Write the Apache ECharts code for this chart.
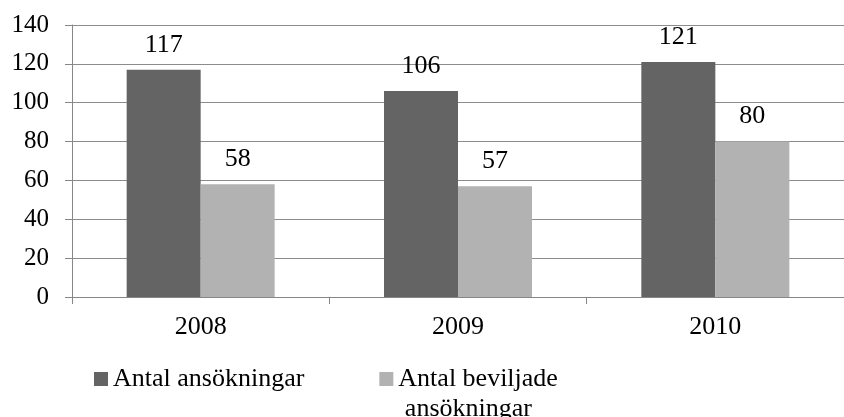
<!DOCTYPE html>
<html>
<head>
<meta charset="utf-8">
<script src="https://cdn.jsdelivr.net/npm/echarts@6/dist/echarts.min.js"></script>
<style>
  html, body { margin: 0; padding: 0; background: #fff; }
  #chart { width: 844px; height: 417px; }
</style>
</head>
<body>
<div id="chart"></div>
<script>
const years = ['2008', '2009', '2010'];
const applications = [117, 106, 121];
const granted = [58, 57, 80];
const seriesNames = ['Antal ansökningar', 'Antal beviljade\n ansökningar'];

const font = "'Liberation Serif', 'Times New Roman', serif";
const chart = echarts.init(document.getElementById('chart'));

const option = {
    animation: false,
    textStyle: { fontFamily: font },
    grid: { left: 72, top: 25, width: 780, height: 272 },
    legend: {
        left: 89,
        top: 329,
        itemWidth: 14,
        itemHeight: 14,
        itemGap: 75,
        icon: 'rect',
        // blank first line keeps the icon level with the first text line
        formatter: name => name.includes('\n') ? '{p|}\n' + name : name,
        textStyle: {
            fontFamily: font, fontSize: 26, lineHeight: 30, color: '#000',
            rich: { p: { height: 30, lineHeight: 30 } }
        },
        data: seriesNames
    },
    xAxis: {
        type: 'category',
        data: years,
        axisLine: { lineStyle: { color: '#868686', width: 1 } },
        axisTick: { show: true, length: 7, lineStyle: { color: '#868686' } },
        axisLabel: { fontFamily: font, fontSize: 26, color: '#000', margin: 17 }
    },
    yAxis: {
        type: 'value',
        min: 0,
        max: 140,
        interval: 20,
        axisLine: { show: true, lineStyle: { color: '#868686' } },
        axisTick: { show: true, length: 7, lineStyle: { color: '#868686' } },
        axisLabel: { fontFamily: font, fontSize: 25, color: '#000', margin: 23 },
        splitLine: { lineStyle: { color: '#8c8c8c' } }
    },
    series: [
        {
            name: seriesNames[0],
            type: 'bar',
            data: applications,
            barWidth: 74,
            barGap: '0%',
            itemStyle: { color: '#646464' },
            label: { show: true, position: 'top', distance: 12, fontFamily: font, fontSize: 26, color: '#000' }
        },
        {
            name: seriesNames[1],
            type: 'bar',
            data: granted,
            barWidth: 74,
            barGap: '0%',
            itemStyle: { color: '#b2b2b2' },
            label: { show: true, position: 'top', distance: 12, fontFamily: font, fontSize: 26, color: '#000' }
        }
    ]
};

chart.setOption(option);
</script>
</body>
</html>
